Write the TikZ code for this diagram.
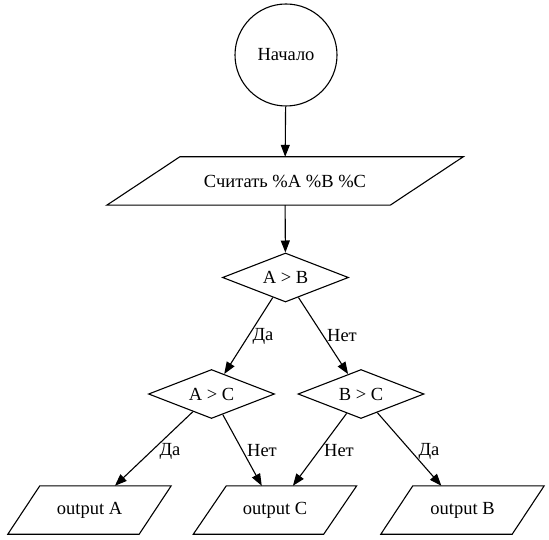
\documentclass[tikz,border=0pt]{standalone}
\usepackage{fontspec}
\setmainfont{Liberation Serif}
\newfontfamily\diagfont{Liberation Serif}
\usetikzlibrary{shapes.geometric,arrows.meta,calc}
\tikzset{
  shapeline/.style={draw=black, line width=1.1pt},
  lbl/.style={font=\diagfont\fontsize{18.5pt}{21pt}\selectfont, inner sep=0pt},
  startnode/.style={circle, shapeline, minimum size=102pt, inner sep=0pt, lbl},
  decision/.style={diamond, shapeline, shape aspect=2.6, minimum width=126pt, minimum height=49pt, inner sep=0pt, lbl},
  iobox/.style={rectangle, draw=none, minimum height=48pt, inner sep=0pt, lbl},
  flow/.style={line width=1.1pt, -{Triangle[length=12pt,width=9pt]}},
}
\newcommand\drawpara[2]{\draw[shapeline] (#1.south west) -- ($(#1.south east)+(-#2,0)$) -- (#1.north east) -- ($(#1.north west)+(#2,0)$) -- cycle;}
\begin{document}
\begin{tikzpicture}[x=1pt,y=-1pt]
\useasboundingbox (0,0) rectangle (549,540);
\node[startnode] (start) at (286,55) {Начало};
\node[iobox, minimum width=356pt] (read) at (285,181) {Считать \%A \%B \%C};
\drawpara{read}{73}
\node[decision] (ab) at (285.5,277.5) {A > B};
\node[decision] (ac) at (211.5,394) {A > C};
\node[decision] (bc) at (361,394) {B > C};
\node[iobox, minimum width=163pt] (oa) at (89.5,510) {output A};
\node[iobox, minimum width=163pt] (oc) at (275,510) {output C};
\node[iobox, minimum width=163pt] (ob) at (462.5,510) {output B};
\drawpara{oa}{32}
\drawpara{oc}{33}
\drawpara{ob}{32}
\draw[flow] (start) -- (read);
\draw[flow] (read) -- (ab);
\draw[flow] (ab) -- (ac);
\draw[flow] (ab) -- (bc);
\draw[flow] (ac) -- (oa);
\draw[flow] (ac) -- (oc);
\draw[flow] (bc) -- (oc);
\draw[flow] (bc) -- (ob);
\node[lbl] (l1) at (263,336) {Да};
\node[lbl] (l2) at (342,336) {Нет};
\node[lbl] (l3) at (170,451) {Да};
\node[lbl] (l4) at (262,451) {Нет};
\node[lbl] (l5) at (339,451) {Нет};
\node[lbl] (l6) at (429,451) {Да};
\end{tikzpicture}
\end{document}
